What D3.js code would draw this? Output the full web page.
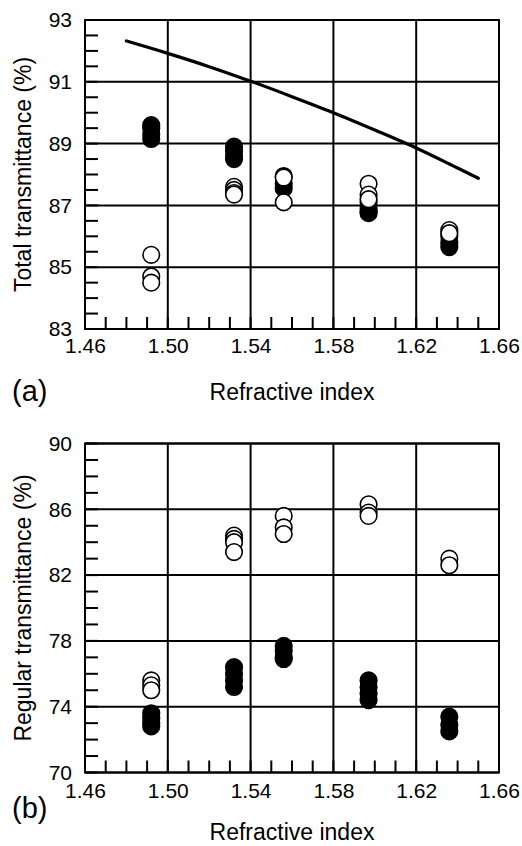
<!DOCTYPE html>
<html>
<head>
<meta charset="utf-8">
<script src="https://cdn.jsdelivr.net/npm/d3@7/dist/d3.min.js"></script>
<style>
  html, body { margin: 0; padding: 0; background: #fff; }
  svg { display: block; }
  text { font-family: "Liberation Sans", Arial, sans-serif; fill: #000; }
</style>
</head>
<body>
<svg id="chart" width="522" height="846"></svg>
<script>
// ---- Data ----
const refractiveIndex = [1.492, 1.532, 1.556, 1.597, 1.636];

// (a) Total transmittance (%)
const totalFilled = [
  [89.6, 89.5, 89.3, 89.15],
  [88.9, 88.75, 88.6, 88.5],
  [87.95, 87.7, 87.55],
  [87.1, 86.9, 86.8, 86.75],
  [86.0, 85.8, 85.65]
];
const totalOpen = [
  [85.4, 84.7, 84.5],
  [87.6, 87.5, 87.4, 87.35],
  [87.9, 87.1],
  [87.7, 87.35, 87.2],
  [86.2, 86.1]
];
// theoretical curve (solid line) in (a)
const curveX = [1.48, 1.50, 1.52, 1.54, 1.56, 1.58, 1.60, 1.62, 1.64, 1.65];
const curveY = [92.32, 91.92, 91.49, 91.02, 90.52, 90.0, 89.44, 88.86, 88.21, 87.88];

// (b) Regular transmittance (%)
const regularFilled = [
  [73.6, 73.3, 73.0, 72.8],
  [76.4, 76.0, 75.6, 75.2],
  [77.7, 77.4, 77.0, 76.9],
  [75.6, 75.2, 74.8, 74.4],
  [73.4, 72.9, 72.5]
];
const regularOpen = [
  [75.6, 75.3, 75.0],
  [84.4, 84.2, 84.0, 83.4],
  [85.6, 84.9, 84.5],
  [86.3, 85.8, 85.6],
  [83.0, 82.6]
];

const xTicks = [1.46, 1.50, 1.54, 1.58, 1.62, 1.66];
const yTicksA = [83, 85, 87, 89, 91, 93];
const yTicksB = [70, 74, 78, 82, 86, 90];
const xTitle = "Refractive index";
const yTitleA = "Total transmittance (%)";
const yTitleB = "Regular transmittance (%)";

// ---- Drawing ----
const svg = d3.select("#chart");
svg.append("rect").attr("width", 522).attr("height", 846).attr("fill", "#fff");

const x = d3.scaleLinear().domain([1.46, 1.66]).range([85, 499]);

function drawPanel(cfg) {
  const y = d3.scaleLinear().domain(cfg.yDomain).range(cfg.yRange);
  const g = svg.append("g");
  const [y0, y1] = cfg.yRange; // bottom, top
  const x0 = x.range()[0], x1 = x.range()[1];

  // minor ticks on y (left, inward)
  const yMinor = d3.range(cfg.yDomain[0], cfg.yDomain[1] + 1e-9, cfg.yMinor);
  g.selectAll(".ymin").data(yMinor).join("line")
    .attr("x1", x0).attr("x2", x0 + 13)
    .attr("y1", d => y(d)).attr("y2", d => y(d))
    .attr("stroke", "#000").attr("stroke-width", 2);
  // minor ticks on x (bottom, inward)
  const xMinor = d3.range(1.46, 1.66 + 1e-9, 0.01);
  g.selectAll(".xmin").data(xMinor).join("line")
    .attr("x1", d => x(d)).attr("x2", d => x(d))
    .attr("y1", y0).attr("y2", y0 - 12)
    .attr("stroke", "#000").attr("stroke-width", 2);

  // gridlines
  g.selectAll(".gy").data(cfg.yTicks).join("line")
    .attr("x1", x0).attr("x2", x1)
    .attr("y1", d => y(d)).attr("y2", d => y(d))
    .attr("stroke", "#000").attr("stroke-width", 2);
  g.selectAll(".gx").data(xTicks).join("line")
    .attr("x1", d => x(d)).attr("x2", d => x(d))
    .attr("y1", y0).attr("y2", y1)
    .attr("stroke", "#000").attr("stroke-width", 2);
  // frame
  g.append("rect").attr("x", x0).attr("y", y1)
    .attr("width", x1 - x0).attr("height", y0 - y1)
    .attr("fill", "none").attr("stroke", "#000").attr("stroke-width", 2);

  // axes labels via d3 axes
  const ax = g.append("g").attr("transform", `translate(0,${y0})`)
    .call(d3.axisBottom(x).tickValues(xTicks).tickSize(0).tickPadding(cfg.xPad).tickFormat(d3.format(".2f")));
  ax.select(".domain").remove();
  ax.selectAll("text").attr("font-size", 21).attr("font-family", "Liberation Sans, Arial, sans-serif");

  const ay = g.append("g").attr("transform", `translate(72,0)`)
    .call(d3.axisLeft(y).tickValues(cfg.yTicks).tickSize(0).tickPadding(0).tickFormat(d3.format("d")));
  ay.select(".domain").remove();
  ay.selectAll("text").attr("font-size", 21).attr("font-family", "Liberation Sans, Arial, sans-serif");

  // titles
  g.append("text").attr("x", (x0 + x1) / 2).attr("y", y0 + cfg.titleOff)
    .attr("text-anchor", "middle").attr("font-size", 23).text(xTitle);
  g.append("text")
    .attr("transform", `translate(31,${(y0 + y1) / 2}) rotate(-90)`)
    .attr("text-anchor", "middle").attr("font-size", 23).text(cfg.yTitle);
  g.append("text").attr("x", 12).attr("y", cfg.tagY)
    .attr("font-size", 29).text(cfg.tag);

  // curve
  if (cfg.curveX) {
    const pts = cfg.curveX.map((d, i) => [d, cfg.curveY[i]]);
    g.append("path").datum(pts)
      .attr("d", d3.line().x(d => x(d[0])).y(d => y(d[1])).curve(d3.curveMonotoneX))
      .attr("fill", "none").attr("stroke", "#000").attr("stroke-width", 3.2)
      .attr("stroke-linecap", "round");
  }

  // points
  const filledPts = [], openPts = [];
  cfg.filled.forEach((arr, i) => arr.forEach(v => filledPts.push([refractiveIndex[i], v])));
  cfg.open.forEach((arr, i) => arr.forEach(v => openPts.push([refractiveIndex[i], v])));
  g.selectAll(".pf").data(filledPts).join("circle")
    .attr("cx", d => x(d[0])).attr("cy", d => y(d[1])).attr("r", 8.3)
    .attr("fill", "#000").attr("stroke", "#000").attr("stroke-width", 1.6);
  g.selectAll(".po").data(openPts).join("circle")
    .attr("cx", d => x(d[0])).attr("cy", d => y(d[1])).attr("r", 8.3)
    .attr("fill", "#fff").attr("stroke", "#000").attr("stroke-width", 1.6);
}

drawPanel({
  yDomain: [83, 93], yRange: [329, 20], yMinor: 0.5, yTicks: yTicksA,
  yTitle: yTitleA, tag: "(a)", tagY: 401, xPad: 9, titleOff: 71,
  filled: totalFilled, open: totalOpen, curveX: curveX, curveY: curveY
});
drawPanel({
  yDomain: [70, 90], yRange: [772.5, 443.5], yMinor: 1, yTicks: yTicksB,
  yTitle: yTitleB, tag: "(b)", tagY: 818, xPad: 11, titleOff: 67,
  filled: regularFilled, open: regularOpen
});
</script>
</body>
</html>
